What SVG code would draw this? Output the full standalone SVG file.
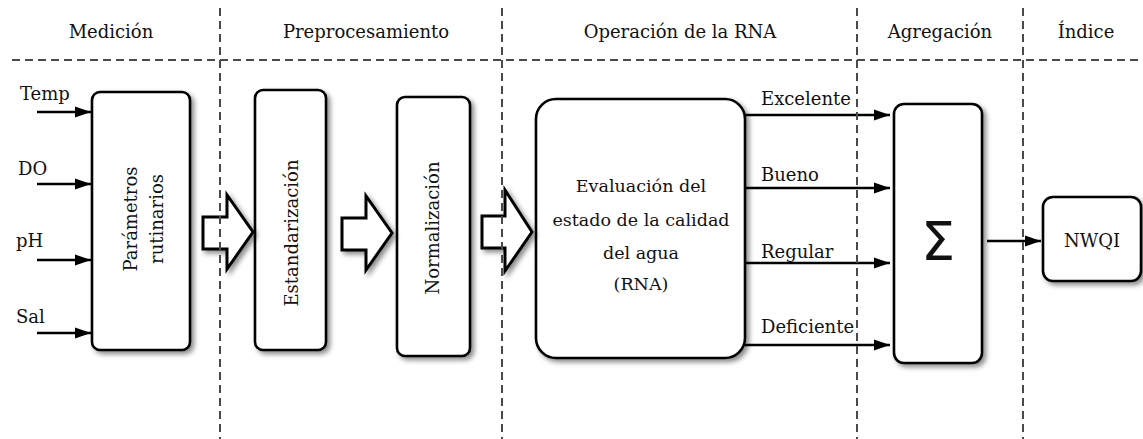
<svg xmlns="http://www.w3.org/2000/svg" width="1143" height="439" viewBox="0 0 1143 439">
<style>
text{font-family:"DejaVu Serif","Liberation Serif",serif;font-size:18px;fill:#111}
.hdr{text-anchor:middle}
.box{fill:#fff;stroke:#000;stroke-width:2.6;filter:url(#sh)}
.dash{stroke:#4a4a4a;stroke-width:2;stroke-dasharray:8 5;fill:none}
.con{stroke:#000;stroke-width:2.4;fill:none;marker-end:url(#ah)}
.big{fill:#fff;stroke:#000;stroke-width:3;stroke-linejoin:miter;filter:url(#sh)}
.rot{text-anchor:middle}
.mid{text-anchor:middle}
</style>
<defs>
<filter id="sh" x="-20%" y="-20%" width="150%" height="150%">
<feDropShadow dx="3" dy="3" stdDeviation="2.5" flood-color="#000" flood-opacity="0.45"/>
</filter>
<marker id="ah" markerUnits="userSpaceOnUse" markerWidth="17" markerHeight="13" refX="16" refY="6" orient="auto">
<path d="M0,0.5 L16,6 L0,11.5 z" fill="#000"/>
</marker>
</defs>
<rect width="1143" height="439" fill="#fff"/>

<g id="headers">
<text class="hdr" x="111" y="38">Medición</text>
<text class="hdr" x="366" y="38">Preprocesamiento</text>
<text class="hdr" x="680" y="38">Operación de la RNA</text>
<text class="hdr" x="940" y="38">Agregación</text>
<text class="hdr" x="1086" y="38">Índice</text>
</g>

<g id="n-parametros">
<rect class="box" x="92" y="92" width="98" height="258" rx="8"/>
<text class="rot" transform="translate(137,219) rotate(-90)"><tspan x="0" y="0">Parámetros</tspan><tspan x="0" y="26">rutinarios</tspan></text>
</g>
<g id="n-estandarizacion">
<rect class="box" x="255" y="90" width="71" height="260" rx="8"/>
<text class="rot" transform="translate(298,233) rotate(-90)">Estandarización</text>
</g>
<g id="n-normalizacion">
<rect class="box" x="397" y="97" width="73" height="259" rx="8"/>
<text class="rot" transform="translate(439,228) rotate(-90)">Normalización</text>
</g>
<g id="n-rna">
<rect class="box" x="536" y="99" width="209" height="259" rx="20"/>
<text class="mid" style="font-size:17.5px" x="641" y="192">Evaluación del</text>
<text class="mid" style="font-size:17.5px" x="641" y="226">estado de la calidad</text>
<text class="mid" style="font-size:17.5px" x="641" y="259">del agua</text>
<text class="mid" style="font-size:17.5px" x="641" y="290">(RNA)</text>
</g>
<g id="n-sigma">
<rect class="box" x="894" y="104" width="88" height="259" rx="10"/>
<text class="mid" style="font-family:'DejaVu Sans','Liberation Sans',sans-serif;font-size:54px" x="938" y="260">Σ</text>
</g>
<g id="n-nwqi">
<rect class="box" x="1043" y="197" width="98" height="84" rx="10"/>
<text class="mid" x="1092" y="247">NWQI</text>
</g>

<g id="connectors">
<line class="con" x1="37" y1="112" x2="91" y2="112"/>
<line class="con" x1="37" y1="184" x2="91" y2="184"/>
<line class="con" x1="37" y1="260" x2="91" y2="260"/>
<line class="con" x1="37" y1="333" x2="91" y2="333"/>
<path class="big" d="M203,217 L227,217 L227,195 L253,232 L227,269 L227,249 L203,249 Z"/>
<path class="big" d="M342,218 L366,218 L366,196 L392,233 L366,270 L366,250 L342,250 Z"/>
<path class="big" d="M482,216 L505,216 L505,190 L532,232 L505,271 L505,248 L482,248 Z"/>
<line class="con" x1="745" y1="115" x2="890" y2="115"/>
<line class="con" x1="745" y1="188" x2="890" y2="188"/>
<line class="con" x1="745" y1="263" x2="890" y2="263"/>
<line class="con" x1="745" y1="345" x2="890" y2="345"/>
<line class="con" x1="987" y1="241" x2="1041" y2="241"/>
</g>

<g id="labels">
<text x="20" y="100">Temp</text>
<text x="18" y="175">DO</text>
<text x="16" y="247">pH</text>
<text x="16" y="323">Sal</text>
<text x="761" y="105">Excelente</text>
<text x="761" y="181">Bueno</text>
<text x="761" y="258">Regular</text>
<text x="761" y="333">Deficiente</text>
</g>

<g id="lanes">
<line class="dash" x1="12" y1="60" x2="1143" y2="60"/>
<line class="dash" x1="220" y1="8" x2="220" y2="439"/>
<line class="dash" x1="502" y1="8" x2="502" y2="439"/>
<line class="dash" x1="857" y1="8" x2="857" y2="439"/>
<line class="dash" x1="1023" y1="8" x2="1023" y2="439"/>
</g>
</svg>
